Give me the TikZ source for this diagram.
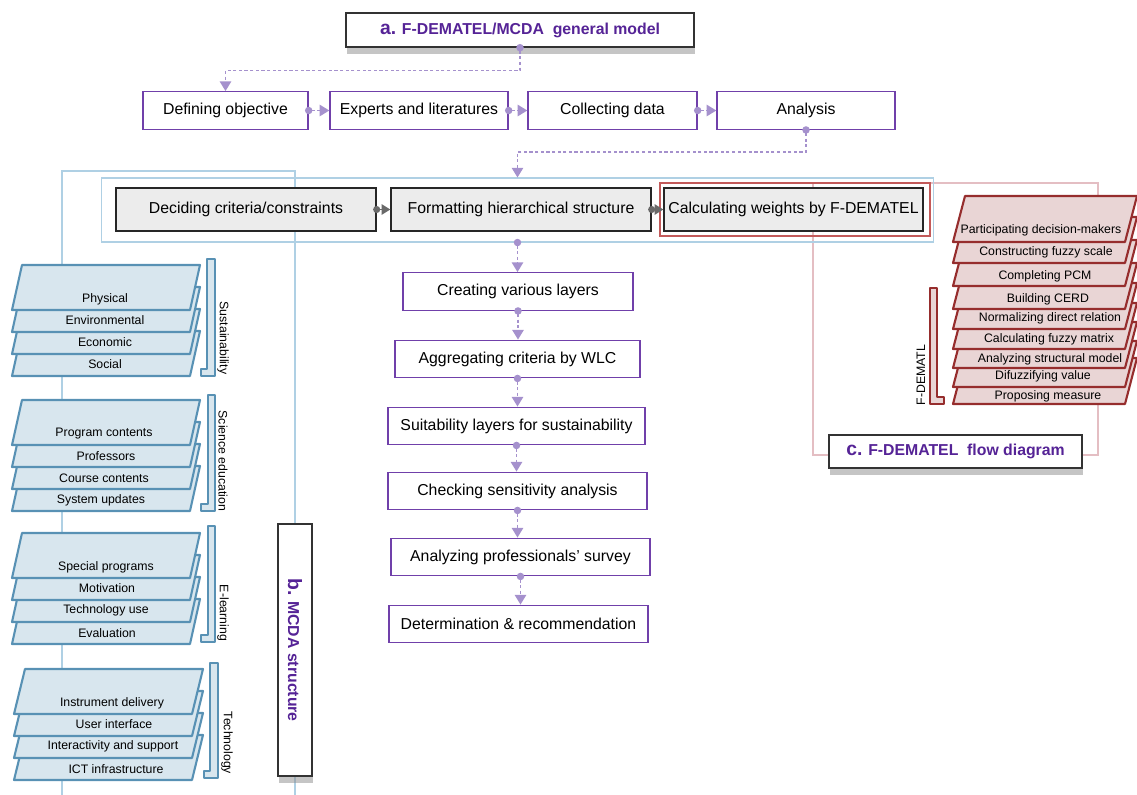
\documentclass[tikz,border=0pt]{standalone}
\usepackage{fontspec}
\setmainfont{Liberation Sans}
\usetikzlibrary{arrows.meta}
\usetikzlibrary{shadows}

\definecolor{deeppurple}{RGB}{85,35,150}
\definecolor{boxpurple}{RGB}{112,64,170}
\definecolor{lavender}{RGB}{165,145,205}
\definecolor{paleblue}{RGB}{175,208,228}
\definecolor{layerfill}{RGB}{216,230,238}
\definecolor{layerline}{RGB}{88,145,180}
\definecolor{boxgray}{RGB}{236,236,236}
\definecolor{linkgray}{RGB}{105,105,105}
\definecolor{calcred}{RGB}{195,90,90}
\definecolor{palepink}{RGB}{228,190,195}
\definecolor{demfill}{RGB}{233,213,213}
\definecolor{demline}{RGB}{150,45,45}

\newcommand{\stepfont}{\fontsize{9}{11}\selectfont}
\newcommand{\layerfont}{\fontsize{7}{8.5}\selectfont}
\newcommand{\bigletter}{\fontsize{11}{13}\selectfont}

\begin{document}
\begin{tikzpicture}[x = 0.02cm, y = -0.02cm]
\tikzstyle{TitleStyle}=[draw = black!80, fill = white, line width = 0.8pt,
font = \bfseries\stepfont, text = deeppurple,
drop shadow = {shadow xshift = 0.5pt, shadow yshift = -4pt, fill = black!45, opacity = 0.5}]
\tikzstyle{StepStyle}=[draw = boxpurple, fill = white, line width = 0.8pt,
font = \stepfont, minimum height = 0.75cm, inner sep = 1pt]
\tikzstyle{GrayStyle}=[draw = black!85, fill = boxgray, line width = 0.8pt,
font = \stepfont, minimum height = 0.86cm, inner sep = 1pt]
\tikzstyle{FlowStyle}=[draw = lavender, line width = 0.8pt, dash pattern = on 1.8pt off 1.4pt,
{Circle[length = 4.2pt]}-{Triangle[length = 5.5pt, width = 6.5pt]}, shorten <= -2.1pt]
\tikzstyle{GrayLink}=[draw = linkgray, line width = 0.8pt,
{Circle[length = 4pt]}-{Triangle[length = 5pt, width = 6pt]}, shorten <= -2pt]
\tikzstyle{LayerStyle}=[draw = layerline, fill = layerfill, line width = 1.2pt, line join = round]
\tikzstyle{DemStyle}=[draw = demline, fill = demfill, line width = 1.2pt, line join = round]
\tikzstyle{LayerText}=[font = \layerfont, inner sep = 0pt]
\useasboundingbox (0,0) rectangle (1137,795);
\draw[paleblue, line width = 0.6pt] (62,795) -- (62,171) -- (295,171) -- (295,795);
\draw[palepink, line width = 0.6pt] (813,183) rectangle (1098,455);
\node[draw = paleblue, line width = 0.6pt, minimum width = 16.66cm, minimum height = 1.28cm] (critframe) at (517.5,210) {};
\node[draw = calcred, line width = 0.7pt, minimum width = 5.4cm, minimum height = 1.06cm] (calcframe) at (795,209.5) {};
\node[TitleStyle, minimum width = 6.96cm, minimum height = 0.68cm] (atitle) at (520,30) {{\bigletter a.} F-DEMATEL/MCDA\ \ general model};
\node[StepStyle, minimum width = 3.3cm] (defobj) at (225.5,110.5) {Defining objective};
\node[StepStyle, minimum width = 3.56cm] (experts) at (419,110.5) {Experts and literatures};
\node[StepStyle, minimum width = 3.38cm] (collect) at (612.5,110.5) {Collecting data};
\node[StepStyle, minimum width = 3.56cm] (analysis) at (806,110.5) {Analysis};
\node[GrayStyle, minimum width = 5.2cm] (decide) at (246,209.5) {Deciding criteria/constraints};
\node[GrayStyle, minimum width = 5.2cm] (format) at (521,209.5) {Formatting hierarchical structure};
\node[GrayStyle, minimum width = 5.18cm] (calc) at (793.5,209.5) {Calculating weights by F-DEMATEL};
\node[StepStyle, minimum width = 4.6cm] (create) at (518,291.5) {Creating various layers};
\node[StepStyle, minimum width = 4.9cm] (aggr) at (517.5,359) {Aggregating criteria by WLC};
\node[StepStyle, minimum width = 5.14cm] (suit) at (516.5,426) {Suitability layers for sustainability};
\node[StepStyle, minimum width = 5.18cm] (check) at (517.5,491) {Checking sensitivity analysis};
\node[StepStyle, minimum width = 5.18cm] (survey) at (520.5,557) {Analyzing professionals’ survey};
\node[StepStyle, minimum width = 5.18cm] (determ) at (518.5,624) {Determination \& recommendation};
\draw[FlowStyle] (atitle.south) -- ++(0,23) -| (defobj.north);
\draw[FlowStyle] (defobj.east) -- (experts.west);
\draw[FlowStyle] (experts.east) -- (collect.west);
\draw[FlowStyle] (collect.east) -- (analysis.west);
\draw[FlowStyle] (analysis.south) -- ++(0,22) -| (critframe.north);
\draw[GrayLink] (decide.east) -- (format.west);
\draw[GrayLink] (format.east) -- (calc.west);
\draw[FlowStyle] (critframe.south) -- (critframe.south |- create.north);
\draw[FlowStyle] (create.south) -- (create.south |- aggr.north);
\draw[FlowStyle] (aggr.south) -- (aggr.south |- suit.north);
\draw[FlowStyle] (suit.south) -- (suit.south |- check.north);
\draw[FlowStyle] (check.south) -- (check.south |- survey.north);
\draw[FlowStyle] (survey.south) -- (survey.south |- determ.north);
\filldraw[LayerStyle] (12,376) -- (190,376) -- (200,331) -- (22,331) -- cycle;
\filldraw[LayerStyle] (12,354) -- (190,354) -- (200,309) -- (22,309) -- cycle;
\filldraw[LayerStyle] (12,332) -- (190,332) -- (200,287) -- (22,287) -- cycle;
\filldraw[LayerStyle] (12,310) -- (190,310) -- (200,265) -- (22,265) -- cycle;
\node[LayerText] (phys) at (105,299) {Physical};
\node[LayerText] (envi) at (105,320) {Environmental};
\node[LayerText] (econ) at (105,342) {Economic};
\node[LayerText] (soci) at (105,364) {Social};
\filldraw[LayerStyle] (207,259) -- (215,259) -- (215,376) -- (201,376) -- (201,369) -- (207,369) -- cycle;
\node[LayerText, rotate = -90] (sust) at (223,338) {Sustainability};
\filldraw[LayerStyle] (12,511) -- (190,511) -- (200,466) -- (22,466) -- cycle;
\filldraw[LayerStyle] (12,489) -- (190,489) -- (200,444) -- (22,444) -- cycle;
\filldraw[LayerStyle] (12,467) -- (190,467) -- (200,422) -- (22,422) -- cycle;
\filldraw[LayerStyle] (12,445) -- (190,445) -- (200,400) -- (22,400) -- cycle;
\node[LayerText] (progc) at (104,434) {Program contents};
\node[LayerText] (prof) at (106,456) {Professors};
\node[LayerText] (coursec) at (104,478) {Course contents};
\node[LayerText] (sysup) at (101,500) {System updates};
\filldraw[LayerStyle] (208,395) -- (215,395) -- (215,511) -- (201,511) -- (201,504) -- (208,504) -- cycle;
\node[LayerText, rotate = -90] (sciedu) at (223,461) {Science education};
\filldraw[LayerStyle] (12,644) -- (190,644) -- (200,599) -- (22,599) -- cycle;
\filldraw[LayerStyle] (12,622) -- (190,622) -- (200,577) -- (22,577) -- cycle;
\filldraw[LayerStyle] (12,600) -- (190,600) -- (200,555) -- (22,555) -- cycle;
\filldraw[LayerStyle] (12,578) -- (190,578) -- (200,533) -- (22,533) -- cycle;
\node[LayerText] (specp) at (106,567) {Special programs};
\node[LayerText] (motiv) at (107,588) {Motivation};
\node[LayerText] (techu) at (106,610) {Technology use};
\node[LayerText] (evalu) at (107,633) {Evaluation};
\filldraw[LayerStyle] (208,526) -- (215,526) -- (215,642) -- (201,642) -- (201,635) -- (208,635) -- cycle;
\node[LayerText, rotate = -90] (elearn) at (223,613) {E-learning};
\filldraw[LayerStyle] (14,780) -- (192,780) -- (203,735) -- (25,735) -- cycle;
\filldraw[LayerStyle] (14,758) -- (192,758) -- (203,713) -- (25,713) -- cycle;
\filldraw[LayerStyle] (14,736) -- (192,736) -- (203,691) -- (25,691) -- cycle;
\filldraw[LayerStyle] (14,714) -- (192,714) -- (203,669) -- (25,669) -- cycle;
\node[LayerText] (instd) at (112,703) {Instrument delivery};
\node[LayerText] (useri) at (114,724) {User interface};
\node[LayerText] (intsup) at (113,746) {Interactivity and support};
\node[LayerText] (ictinf) at (116,769) {ICT infrastructure};
\filldraw[LayerStyle] (210,663) -- (218,663) -- (218,778) -- (204,778) -- (204,771) -- (210,771) -- cycle;
\node[LayerText, rotate = -90] (techno) at (227,743) {Technology};
\node[TitleStyle, minimum width = 0.68cm, minimum height = 5.04cm] (btitle) at (295,650) {};
\node[font = \bfseries\stepfont, text = deeppurple, rotate = -90, inner sep = 0pt] (btext) at (btitle.center) {{\bigletter b.} MCDA structure};
\filldraw[DemStyle] (953,404) -- (1125,404) -- (1137,358) -- (965,358) -- cycle;
\filldraw[DemStyle] (953,387) -- (1125,387) -- (1137,341) -- (965,341) -- cycle;
\filldraw[DemStyle] (953,368) -- (1125,368) -- (1137,322) -- (965,322) -- cycle;
\filldraw[DemStyle] (953,349) -- (1125,349) -- (1137,303) -- (965,303) -- cycle;
\filldraw[DemStyle] (953,329) -- (1125,329) -- (1137,283) -- (965,283) -- cycle;
\filldraw[DemStyle] (953,309) -- (1125,309) -- (1137,263) -- (965,263) -- cycle;
\filldraw[DemStyle] (953,286) -- (1125,286) -- (1137,240) -- (965,240) -- cycle;
\filldraw[DemStyle] (953,263) -- (1125,263) -- (1137,217) -- (965,217) -- cycle;
\filldraw[DemStyle] (953,242) -- (1125,242) -- (1137,196) -- (965,196) -- cycle;
\node[LayerText] (partdm) at (1041,230) {Participating decision-makers};
\node[LayerText] (fuzzsc) at (1046,252) {Constructing fuzzy scale};
\node[LayerText] (compcm) at (1045,276) {Completing PCM};
\node[LayerText] (cerd) at (1048,299) {Building CERD};
\node[LayerText] (normdr) at (1050,318) {Normalizing direct relation};
\node[LayerText] (fuzzmx) at (1049,339) {Calculating fuzzy matrix};
\node[LayerText] (structm) at (1050,359) {Analyzing structural model};
\node[LayerText] (difuzz) at (1043,376) {Difuzzifying value};
\node[LayerText] (propm) at (1048,396) {Proposing measure};
\filldraw[DemStyle] (930,288) -- (937,288) -- (937,397) -- (944,397) -- (944,404) -- (930,404) -- cycle;
\node[LayerText, rotate = 90] (demlabel) at (921,375) {F-DEMATL};
\node[TitleStyle, minimum width = 5.06cm, minimum height = 0.66cm] (ctitle) at (955.5,451.5) {{\bigletter c.} F-DEMATEL\ \ flow diagram};
\end{tikzpicture}
\end{document}
